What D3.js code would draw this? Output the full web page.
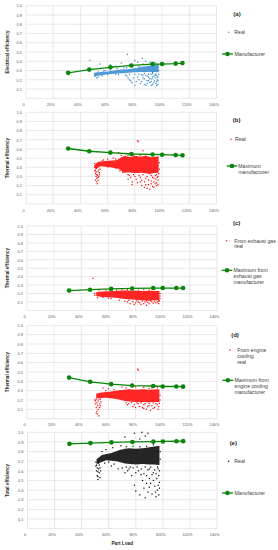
<!DOCTYPE html>
<html>
<head>
<meta charset="utf-8">
<script src="https://cdn.jsdelivr.net/npm/d3@7"></script>
<style>
  html, body { margin: 0; padding: 0; background: #fff; }
  svg { display: block; font-family: "Liberation Sans", Arial, sans-serif; }
</style>
</head>
<body>
<div id="chart"></div>
<script>
// part load axis and efficiency axis ticks
var loadTicks = [0, 0.2, 0.4, 0.6, 0.8, 1.0, 1.2, 1.4];
var effTicks = [0.1, 0.2, 0.3, 0.4, 0.5, 0.6, 0.7, 0.8, 0.9, 1.0];

// manufacturer curves
var mfrLoad = [0.31, 0.465, 0.62, 0.775, 0.93, 1.0, 1.10, 1.15];
var mfrElec = [0.275, 0.31, 0.335, 0.355, 0.37, 0.37, 0.375, 0.38];
var mfrThermal = [0.605, 0.575, 0.56, 0.545, 0.54, 0.537, 0.533, 0.53];
var mfrExhaust = [0.235, 0.245, 0.255, 0.26, 0.265, 0.265, 0.265, 0.265];
var mfrCooling = [0.44, 0.395, 0.37, 0.355, 0.35, 0.345, 0.345, 0.343];
var mfrTotal = [0.88, 0.888, 0.895, 0.9, 0.903, 0.905, 0.907, 0.908];

// measured data: outline of the dense cloud + loose points  [load, efficiency]
var realElecCloud = [[0.50,0.235],[0.55,0.25],[0.60,0.26],[0.65,0.265],[0.70,0.27],[0.75,0.275],[0.80,0.28],
  [0.85,0.285],[0.90,0.285],[0.975,0.28],[0.975,0.37],[0.94,0.36],[0.90,0.35],[0.85,0.34],[0.80,0.325],
  [0.75,0.315],[0.70,0.31],[0.65,0.30],[0.60,0.29],[0.55,0.285],[0.50,0.275]];
var realElecPts = [[0.47,0.41],[0.545,0.37],[0.62,0.36],[0.66,0.35],[0.70,0.38],[0.745,0.475],[0.76,0.36],
  [0.80,0.41],[0.82,0.39],[0.855,0.43],[0.88,0.40],[0.91,0.39],[0.52,0.22],[0.51,0.24],[0.56,0.245],
  [0.73,0.25],[0.75,0.22],[0.77,0.19],[0.78,0.17],[0.80,0.14],[0.82,0.23],[0.83,0.20],[0.84,0.16],
  [0.86,0.25],[0.87,0.21],[0.88,0.14],[0.89,0.19],[0.90,0.23],[0.91,0.17],[0.92,0.26],[0.925,0.21],
  [0.93,0.15],[0.94,0.24],[0.945,0.19],[0.95,0.22],[0.955,0.16],[0.96,0.25],[0.965,0.20],[0.97,0.23],
  [0.97,0.15],[0.93,0.265],[0.95,0.26],[0.90,0.26],[0.85,0.255],[0.80,0.26],[0.76,0.26],[0.68,0.255],
  [0.64,0.34],[0.58,0.30],[0.72,0.33],[0.86,0.37],[0.94,0.39],[0.89,0.24],[0.92,0.18],[0.96,0.18],
  [0.53,0.285],[0.57,0.295],[0.62,0.305],[0.67,0.32],[0.74,0.33],[0.78,0.34],[0.83,0.345],[0.90,0.365],
  [0.955,0.38],[0.53,0.23],[0.60,0.255],[0.66,0.26],[0.87,0.27],[0.93,0.28],[0.975,0.30],
  [0.74,0.24],[0.76,0.20],[0.79,0.22],[0.81,0.18],[0.83,0.26],[0.85,0.18],[0.86,0.22],[0.88,0.25],
  [0.89,0.16],[0.91,0.21],[0.92,0.14],[0.93,0.23],[0.94,0.17],[0.95,0.25],[0.96,0.14],[0.965,0.23],
  [0.97,0.19],[0.975,0.26],[0.90,0.19],[0.87,0.15]];

var realThermalCloud = [[0.50,0.42],[0.53,0.46],[0.57,0.465],[0.60,0.47],[0.64,0.475],[0.67,0.48],[0.70,0.51],
  [0.73,0.525],[0.76,0.51],[0.80,0.525],[0.84,0.515],[0.88,0.525],[0.92,0.51],[0.975,0.52],[0.975,0.34],
  [0.93,0.335],[0.90,0.33],[0.85,0.34],[0.80,0.335],[0.76,0.345],[0.72,0.34],[0.68,0.385],[0.62,0.40],
  [0.55,0.41],[0.51,0.38]];
var realThermalPts = [[0.505,0.36],[0.51,0.33],[0.515,0.30],[0.52,0.28],[0.52,0.32],[0.53,0.26],[0.525,0.22],
  [0.535,0.30],[0.54,0.34],[0.53,0.35],[0.505,0.44],[0.52,0.43],[0.56,0.47],[0.60,0.49],[0.64,0.50],[0.68,0.56],
  [0.73,0.55],[0.82,0.69],[0.825,0.68],[0.86,0.58],[0.78,0.24],[0.78,0.21],[0.82,0.23],[0.85,0.20],[0.87,0.18],
  [0.89,0.17],[0.90,0.21],[0.92,0.25],[0.93,0.19],[0.94,0.28],[0.95,0.22],[0.96,0.20],[0.97,0.26],[0.97,0.30],
  [0.88,0.28],[0.84,0.29],[0.80,0.30],[0.76,0.31],[0.92,0.31],[0.96,0.32],[0.75,0.27],[0.91,0.16],[0.94,0.18],
  [0.70,0.53],[0.75,0.53],[0.79,0.535],[0.84,0.53],[0.88,0.535],[0.93,0.53],[0.66,0.49],[0.57,0.48],
  [0.69,0.36],[0.71,0.345],[0.66,0.39],[0.60,0.405],[0.98,0.45],[0.98,0.38],
  [0.75,0.32],[0.77,0.29],[0.79,0.32],[0.81,0.27],[0.83,0.31],[0.85,0.26],[0.86,0.32],[0.87,0.24],[0.89,0.30],
  [0.90,0.26],[0.91,0.33],[0.92,0.22],[0.93,0.29],[0.94,0.24],[0.95,0.31],[0.955,0.27],[0.96,0.23],[0.965,0.29],
  [0.97,0.21],[0.975,0.33],[0.88,0.21],[0.84,0.24],[0.505,0.40],[0.51,0.37],[0.515,0.35],[0.52,0.39],
  [0.525,0.31],[0.53,0.29],[0.535,0.37],[0.54,0.32],[0.545,0.38],[0.51,0.26],[0.52,0.24]];

var realExhaustCloud = [[0.51,0.215],[0.55,0.225],[0.60,0.228],[0.65,0.23],[0.70,0.235],[0.75,0.235],
  [0.80,0.232],[0.85,0.23],[0.90,0.232],[0.975,0.23],[0.975,0.12],[0.93,0.12],[0.90,0.115],[0.85,0.12],
  [0.80,0.125],[0.72,0.135],[0.65,0.15],[0.60,0.155],[0.55,0.16],[0.51,0.17]];
var realExhaustPts = [[0.485,0.38],[0.50,0.20],[0.50,0.18],[0.52,0.15],[0.53,0.24],[0.58,0.24],[0.62,0.245],
  [0.70,0.25],[0.78,0.25],[0.86,0.25],[0.94,0.25],[0.74,0.10],[0.76,0.08],[0.80,0.09],[0.84,0.07],[0.87,0.10],
  [0.90,0.08],[0.92,0.10],[0.95,0.09],[0.97,0.11],[0.62,0.14],[0.68,0.12],[0.98,0.20],[0.98,0.17],[0.82,0.10],
  [0.66,0.24],[0.74,0.245],[0.82,0.24],[0.90,0.24],[0.56,0.155],[0.60,0.145],[0.98,0.14],
  [0.72,0.11],[0.75,0.12],[0.78,0.10],[0.81,0.115],[0.83,0.09],[0.85,0.11],[0.86,0.08],[0.88,0.115],
  [0.89,0.095],[0.91,0.115],[0.93,0.085],[0.94,0.11],[0.96,0.10],[0.97,0.08],[0.975,0.115],[0.79,0.07],[0.88,0.06]];

var realCoolingCloud = [[0.51,0.27],[0.55,0.28],[0.62,0.29],[0.68,0.305],[0.72,0.31],[0.75,0.315],[0.80,0.31],
  [0.85,0.315],[0.90,0.31],[0.975,0.315],[0.975,0.18],[0.93,0.18],[0.90,0.175],[0.85,0.18],[0.80,0.18],
  [0.72,0.19],[0.66,0.21],[0.58,0.225],[0.51,0.22]];
var realCoolingPts = [[0.50,0.20],[0.505,0.16],[0.51,0.12],[0.515,0.08],[0.52,0.05],[0.525,0.10],[0.53,0.03],
  [0.54,0.14],[0.545,0.18],[0.53,0.21],[0.56,0.33],[0.60,0.32],[0.70,0.34],[0.76,0.35],[0.80,0.34],[0.86,0.335],
  [0.92,0.33],[0.815,0.53],[0.82,0.52],[0.74,0.15],[0.78,0.13],[0.82,0.16],[0.85,0.12],[0.88,0.10],[0.90,0.14],
  [0.93,0.11],[0.95,0.16],[0.97,0.13],[0.91,0.09],[0.86,0.15],[0.58,0.30],[0.64,0.31],[0.73,0.33],[0.90,0.325],
  [0.96,0.33],[0.98,0.25],[0.98,0.2],
  [0.73,0.17],[0.75,0.16],[0.77,0.175],[0.79,0.15],[0.80,0.12],[0.81,0.17],[0.83,0.13],[0.84,0.17],[0.86,0.11],
  [0.87,0.16],[0.89,0.13],[0.90,0.165],[0.92,0.14],[0.93,0.17],[0.94,0.12],[0.96,0.15],[0.965,0.10],[0.975,0.165],
  [0.505,0.19],[0.51,0.21],[0.515,0.17],[0.52,0.14],[0.525,0.19],[0.535,0.12],[0.51,0.06],[0.535,0.16],[0.54,0.21]];

var realTotalCloud = [[0.51,0.72],[0.55,0.765],[0.62,0.785],[0.68,0.815],[0.72,0.83],[0.75,0.835],[0.80,0.83],
  [0.85,0.835],[0.90,0.845],[0.975,0.86],[0.975,0.66],[0.93,0.665],[0.90,0.665],[0.85,0.67],[0.80,0.665],
  [0.72,0.675],[0.66,0.70],[0.58,0.71],[0.51,0.67]];
var realTotalPts = [[0.505,0.65],[0.51,0.60],[0.515,0.55],[0.52,0.51],[0.53,0.58],[0.535,0.63],[0.525,0.68],
  [0.55,0.80],[0.58,0.82],[0.63,0.84],[0.69,0.86],[0.72,0.95],[0.79,0.99],[0.83,0.93],[0.845,1.0],[0.87,0.96],
  [0.89,0.99],[0.74,0.60],[0.77,0.55],[0.79,0.45],[0.80,0.39],[0.82,0.60],[0.83,0.35],[0.85,0.50],[0.86,0.42],
  [0.87,0.32],[0.88,0.55],[0.89,0.38],[0.90,0.62],[0.91,0.47],[0.92,0.36],[0.93,0.58],[0.94,0.44],[0.95,0.33],
  [0.955,0.52],[0.96,0.40],[0.965,0.62],[0.97,0.35],[0.975,0.48],[0.70,0.63],[0.72,0.58],[0.76,0.64],
  [0.62,0.65],[0.67,0.62],[0.57,0.68],[0.60,0.69],[0.64,0.67],[0.73,0.85],[0.78,0.855],[0.83,0.85],
  [0.88,0.855],[0.93,0.87],[0.98,0.80],[0.98,0.72],
  [0.73,0.64],[0.75,0.62],[0.78,0.63],[0.80,0.58],[0.81,0.64],[0.84,0.62],[0.86,0.57],[0.87,0.64],[0.89,0.61],
  [0.90,0.52],[0.91,0.64],[0.92,0.56],[0.93,0.50],[0.94,0.61],[0.945,0.38],[0.95,0.57],[0.96,0.64],[0.965,0.45],
  [0.97,0.55],[0.975,0.60],[0.975,0.42],[0.90,0.43],[0.88,0.47],[0.84,0.56],[0.505,0.69],[0.51,0.66],
  [0.515,0.63],[0.52,0.59],[0.525,0.62],[0.53,0.66],[0.54,0.60],[0.52,0.54],[0.535,0.53]];

var green = '#0a860a';

var panels = [
  { tag: '(a)', yTitle: 'Electrical efficiency', top: 5.7, bottom: 98.3, x0: 26, x1: 216.5, color: '#2f87d0',
    cloud: realElecCloud, pts: realElecPts, mfr: mfrElec,
    realText: ['Real'], mfrText: ['Manufacturer'],
    tagPos: [237, 14], realPos: [228.7, 32.3, 234.3], mfrPos: [222, 233, 54, 234.5] },
  { tag: '(b)', yTitle: 'Thermal efficiency', top: 112.3, bottom: 203.9, x0: 26, x1: 216.5, color: '#ff0000',
    cloud: realThermalCloud, pts: realThermalPts, mfr: mfrThermal,
    realText: ['Real'], mfrText: ['Maximum', 'manufacturer'],
    tagPos: [236.7, 120], realPos: [231, 139.3, 235], mfrPos: [226.7, 237.3, 166, 238.3] },
  { tag: '(c)', yTitle: 'Thermal efficiency', top: 226, bottom: 310.4, x0: 27, x1: 217, color: '#ff0000',
    cloud: realExhaustCloud, pts: realExhaustPts, mfr: mfrExhaust,
    realText: ['From exhaust gas', 'real'], mfrText: ['Maximum from', 'exhaust gas', 'manufacturer'],
    tagPos: [236.7, 223.3], realPos: [226.7, 240.7, 234.3], mfrPos: [221.7, 232.3, 270.3, 233.5] },
  { tag: '(d)', yTitle: 'Thermal efficiency', top: 325.3, bottom: 418.7, x0: 27, x1: 217, color: '#ff0000',
    cloud: realCoolingCloud, pts: realCoolingPts, mfr: mfrCooling,
    realText: ['From engine', 'cooling', 'real'], mfrText: ['Maximum from', 'engine cooling', 'manufacturer'],
    tagPos: [235, 335], realPos: [230, 350, 237.3], mfrPos: [222.3, 233.3, 380.3, 234.5] },
  { tag: '(e)', yTitle: 'Total efficiency', top: 432.3, bottom: 528.6, x0: 27.5, x1: 217, color: '#000000',
    cloud: realTotalCloud, pts: realTotalPts, mfr: mfrTotal,
    realText: ['Real'], mfrText: ['Manufacturer'],
    tagPos: [233.3, 443.3], realPos: [228.7, 461.3, 234.3], mfrPos: [222, 233, 493, 234.5] }
];

var svg = d3.select('#chart').append('svg').attr('width', 278).attr('height', 550);

var pctFmt = function(d) { return d === 0 ? '0' : d3.format('.0%')(d); };

panels.forEach(function(p, idx) {
  var x = d3.scaleLinear().domain([0, 1.4]).range([p.x0, p.x1]);
  var y = d3.scaleLinear().domain([0, 1]).range([p.bottom, p.top]);
  var g = svg.append('g');

  // grid
  g.append('g').selectAll('line').data([0].concat(effTicks)).enter().append('line')
    .attr('x1', p.x0).attr('x2', p.x1)
    .attr('y1', function(d) { return y(d); }).attr('y2', function(d) { return y(d); })
    .attr('stroke', '#d9d9d9').attr('stroke-width', 0.6);
  g.append('g').selectAll('line').data(loadTicks).enter().append('line')
    .attr('y1', p.top).attr('y2', p.bottom)
    .attr('x1', function(d) { return x(d); }).attr('x2', function(d) { return x(d); })
    .attr('stroke', '#d9d9d9').attr('stroke-width', 0.6);

  // axes (labels only)
  var xAxis = g.append('g').attr('transform', 'translate(-3,' + (p.bottom + 5) + ')')
    .call(d3.axisBottom(x).tickValues(loadTicks).tickFormat(pctFmt).tickSize(0).tickPadding(0));
  var yAxis = g.append('g').attr('transform', 'translate(' + (p.x0 - 4) + ',0)')
    .call(d3.axisLeft(y).tickValues(effTicks).tickFormat(d3.format('.1f')).tickSize(0).tickPadding(0));
  [xAxis, yAxis].forEach(function(a) {
    a.select('.domain').remove();
    a.selectAll('text').attr('font-size', 3.9).attr('fill', '#595959').attr('font-family', 'Liberation Sans');
  });

  // y title
  g.append('text')
    .attr('transform', 'translate(7,' + ((p.top + p.bottom) / 2) + ') rotate(-90)')
    .attr('text-anchor', 'middle').attr('dy', '0.35em')
    .attr('font-size', 4.6).attr('font-weight', 'bold').attr('fill', '#262626')
    .text(p.yTitle);

  // measured data
  var area = d3.line().x(function(d) { return x(d[0]); }).y(function(d) { return y(d[1]); })
    .curve(d3.curveLinearClosed);
  g.append('path').datum(p.cloud).attr('d', area).attr('fill', p.color).attr('fill-opacity', 0.85);
  g.append('g').selectAll('rect').data(p.pts).enter().append('rect')
    .attr('x', function(d) { return x(d[0]) - 0.6; })
    .attr('y', function(d) { return y(d[1]) - 0.6; })
    .attr('width', 1.2).attr('height', 1.2).attr('fill', p.color);

  // manufacturer curve
  var mfrData = mfrLoad.map(function(l, i) { return [l, p.mfr[i]]; });
  var line = d3.line().x(function(d) { return x(d[0]); }).y(function(d) { return y(d[1]); });
  g.append('path').datum(mfrData).attr('d', line).attr('fill', 'none')
    .attr('stroke', green).attr('stroke-width', 1.3);
  g.append('g').selectAll('circle').data(mfrData).enter().append('circle')
    .attr('cx', function(d) { return x(d[0]); }).attr('cy', function(d) { return y(d[1]); })
    .attr('r', 2.3).attr('fill', green);

  // legend
  g.append('text').attr('x', p.tagPos[0]).attr('y', p.tagPos[1]).attr('dy', '0.35em')
    .attr('text-anchor', 'middle').attr('font-size', 6).attr('font-weight', 'bold').attr('fill', '#262626')
    .text(p.tag);
  g.append('rect').attr('x', p.realPos[0] - 0.6).attr('y', p.realPos[1] - 0.6)
    .attr('width', 1.2).attr('height', 1.2).attr('fill', p.color);
  g.append('g').selectAll('text').data(p.realText).enter().append('text')
    .attr('x', p.realPos[2]).attr('y', function(d, i) { return p.realPos[1] + i * 5.9; }).attr('dy', '0.35em')
    .attr('font-size', 5.2).attr('fill', '#404040').text(function(d) { return d; });
  g.append('line').attr('x1', p.mfrPos[0]).attr('x2', p.mfrPos[1]).attr('y1', p.mfrPos[2]).attr('y2', p.mfrPos[2])
    .attr('stroke', green).attr('stroke-width', 1.3);
  g.append('circle').attr('cx', (p.mfrPos[0] + p.mfrPos[1]) / 2).attr('cy', p.mfrPos[2]).attr('r', 2.3).attr('fill', green);
  g.append('g').selectAll('text').data(p.mfrText).enter().append('text')
    .attr('x', p.mfrPos[3]).attr('y', function(d, i) { return p.mfrPos[2] + i * 5.7; }).attr('dy', '0.35em')
    .attr('font-size', 5.2).attr('fill', '#404040').text(function(d) { return d; });

  if (idx === panels.length - 1) {
    g.append('text').attr('x', (p.x0 + p.x1) / 2).attr('y', 543).attr('dy', '0.35em')
      .attr('text-anchor', 'middle').attr('font-size', 4.7).attr('font-weight', 'bold').attr('fill', '#262626')
      .text('Part Load');
  }
});
</script>
</body>
</html>
